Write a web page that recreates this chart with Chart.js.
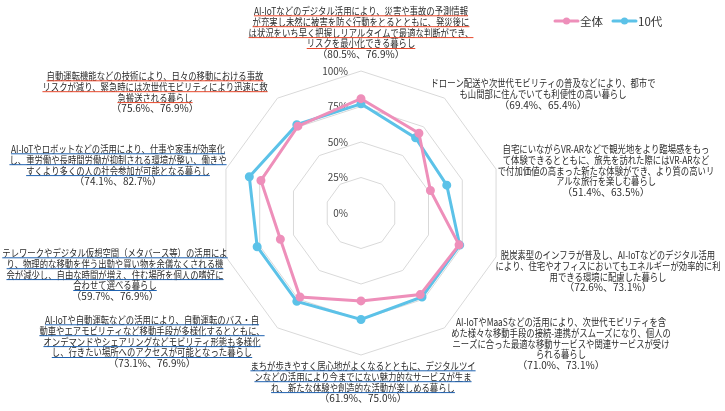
<!DOCTYPE html>
<html><head><meta charset="utf-8">
<script src="https://cdn.jsdelivr.net/npm/chart.js@4.4.0/dist/chart.umd.min.js"></script>
<style>html,body{margin:0;padding:0;background:#fff;}#wrap{width:725px;height:411px;position:relative;}</style>
</head><body><div id="wrap"><canvas id="c"></canvas></div>
<script>
const categories = [
 ["AI-IoTなどのデジタル活用により、災害や事故の予測情報","が充実し未然に被害を防ぐ行動をとるとともに、発災後に","は状況をいち早く把握しリアルタイムで最適な判断ができ、","リスクを最小化できる暮らし"],
 ["ドローン配送や次世代モビリティの普及などにより、都市で","も山間部に住んでいても利便性の高い暮らし"],
 ["自宅にいながらVR-ARなどで観光地をより臨場感をもっ","て体験できるとともに、旅先を訪れた際にはVR-ARなど","で付加価値の高まった新たな体験ができ、より質の高いリ","アルな旅行を楽しむ暮らし"],
 ["脱炭素型のインフラが普及し、AI-IoTなどのデジタル活用","により、住宅やオフィスにおいてもエネルギーが効率的に利","用できる環境に配慮した暮らし"],
 ["AI-IoTやMaaSなどの活用により、次世代モビリティを含","めた様々な移動手段の接続-連携がスムーズになり、個人の","ニーズに合った最適な移動サービスや関連サービスが受け","られる暮らし"],
 ["まちが歩きやすく居心地がよくなるとともに、デジタルツイ","ンなどの活用により今までにない魅力的なサービスが生ま","れ、新たな体験や創造的な活動が楽しめる暮らし"],
 ["AI-IoTや自動運転などの活用により、自動運転のバス・自","動車やエアモビリティなど移動手段が多様化するとともに、","オンデマンドやシェアリングなどモビリティ形態も多様化","し、行きたい場所へのアクセスが可能となった暮らし"],
 ["テレワークやデジタル仮想空間（メタバース等）の活用によ","り、物理的な移動を伴う出勤や買い物を余儀なくされる機","会が減少し、自由な時間が増え、住む場所を個人の嗜好に","合わせて選べる暮らし"],
 ["AI-IoTやロボットなどの活用により、仕事や家事が効率化","し、重労働や長時間労働が抑制される環境が整い、働きや","すくより多くの人の社会参加が可能となる暮らし"],
 ["自動運転機能などの技術により、日々の移動における事故","リスクが減り、緊急時には次世代モビリティにより迅速に救","急搬送される暮らし"]
];
const seriesNames = ["全体", "10代"];
const seriesAll   = [80.5, 69.4, 51.4, 72.6, 71.0, 61.9, 73.1, 59.7, 74.1, 75.6];
const seriesTeens = [76.9, 65.4, 63.5, 73.1, 73.1, 75.0, 76.9, 76.9, 82.7, 76.9];
const tickValues  = [0, 25, 50, 75, 100];

const FONT = '"Noto Sans CJK JP", "Noto Sans", sans-serif';
const PINK = '#ee8fba';
const BLUE = '#5cc2e8';

const radarDecor = {
  id: 'radarDecor',
  beforeDatasetsDraw(chart, args, o) {
    const s = chart.scales.r, ctx = chart.ctx;
    ctx.save();
    ctx.font = '10px ' + FONT;
    ctx.fillStyle = '#444';
    ctx.textAlign = 'right';
    ctx.textBaseline = 'middle';
    tickValues.forEach(v => {
      const d = s.getDistanceFromCenterForValue(v);
      ctx.fillText(v + '%', s.xCenter - o.tickGap, s.yCenter - d);
    });
    ctx.restore();
  },
  afterDraw(chart, args, o) {
    const s = chart.scales.r, ctx = chart.ctx;
    const ds = chart.data.datasets;
    ctx.save();
    ctx.textAlign = 'center';
    ctx.textBaseline = 'middle';
    categories.forEach((lines, i) => {
      const a = o.anchors[i];
      const x = s.xCenter + a[0];
      let y = s.yCenter + a[1];
      const pct = '（' + ds[0].data[i].toFixed(1) + '%、' + ds[1].data[i].toFixed(1) + '%）';
      const all = lines.concat([pct]);
      all.forEach((t, k) => {
        const isPct = k === lines.length;
        ctx.font = (isPct ? o.pctSize : o.labelSize) + 'px ' + FONT;
        const sq = isPct ? o.pctSqueeze : o.squeeze;
        const w = ctx.measureText(t).width * sq;
        ctx.save();
        ctx.translate(x, y);
        ctx.scale(sq, 1);
        ctx.fillStyle = '#2b2b2b';
        ctx.fillText(t, 0, 0);
        ctx.restore();
        const uc = o.underline[i];
        if (uc && !isPct) {
          ctx.beginPath();
          ctx.strokeStyle = uc;
          ctx.lineWidth = 1;
          ctx.moveTo(x - w / 2, y + o.ulOffset);
          ctx.lineTo(x + w / 2, y + o.ulOffset);
          ctx.stroke();
        }
        y += o.lineGap;
      });
    });
    // legend
    ctx.font = o.legendSize + 'px ' + FONT;
    ctx.textAlign = 'left';
    ctx.textBaseline = 'middle';
    let lx = o.legendX;
    const ly = o.legendY;
    ds.forEach(d => {
      ctx.strokeStyle = d.borderColor;
      ctx.lineWidth = 3;
      ctx.lineCap = 'round';
      ctx.beginPath();
      ctx.moveTo(lx, ly); ctx.lineTo(lx + o.legendLine, ly); ctx.stroke();
      ctx.fillStyle = d.borderColor;
      ctx.beginPath(); ctx.arc(lx + o.legendLine / 2, ly, 3.5, 0, Math.PI * 2); ctx.fill();
      ctx.fillStyle = '#333';
      ctx.fillText(d.label, lx + o.legendLine + 2, ly + 0.5);
      lx += o.legendLine + 4 + ctx.measureText(d.label).width + o.legendGap;
    });
    ctx.restore();
  }
};

new Chart(document.getElementById('c'), {
  type: 'radar',
  data: {
    labels: categories.map(c => c.join('')),
    datasets: [
      { label: seriesNames[0], data: seriesAll, borderColor: PINK, backgroundColor: PINK,
        pointBackgroundColor: PINK, pointBorderColor: PINK, borderWidth: 3, pointRadius: 3, fill: false },
      { label: seriesNames[1], data: seriesTeens, borderColor: BLUE, backgroundColor: BLUE,
        pointBackgroundColor: BLUE, pointBorderColor: BLUE, borderWidth: 3, pointRadius: 3, fill: false }
    ]
  },
  options: {
    responsive: true,
    maintainAspectRatio: false,
    animation: false,
    layout: { padding: { left: 0, right: 3, top: 71, bottom: 56 } },
    plugins: {
      legend: { display: false },
      tooltip: { enabled: false },
      radarDecor: {
        tickGap: 13,
        labelSize: 10,
        squeeze: 0.835,
        pctSize: 10,
        pctSqueeze: 1.0,
        lineGap: 10.9,
        ulOffset: 4.8,
        underline: ['#e8482c', null, null, null, null, '#1f62b0', '#1f62b0', '#1f62b0', '#1f62b0', '#e8482c'],
        anchors: [[0, -202], [182, -130], [245, -64], [247, 42], [200, 109], [2, 153], [-209, 107], [-246, 40], [-243, -64], [-206, -137]],
        legendX: 555, legendY: 21, legendLine: 23, legendGap: 8, legendSize: 11.5
      }
    },
    scales: {
      r: {
        min: 0, max: 100,
        ticks: { display: false, stepSize: 25 },
        pointLabels: { display: false },
        angleLines: { display: false },
        grid: { color: '#d9d9d9', lineWidth: 1 }
      }
    }
  },
  plugins: [radarDecor]
});
</script>
</body></html>
